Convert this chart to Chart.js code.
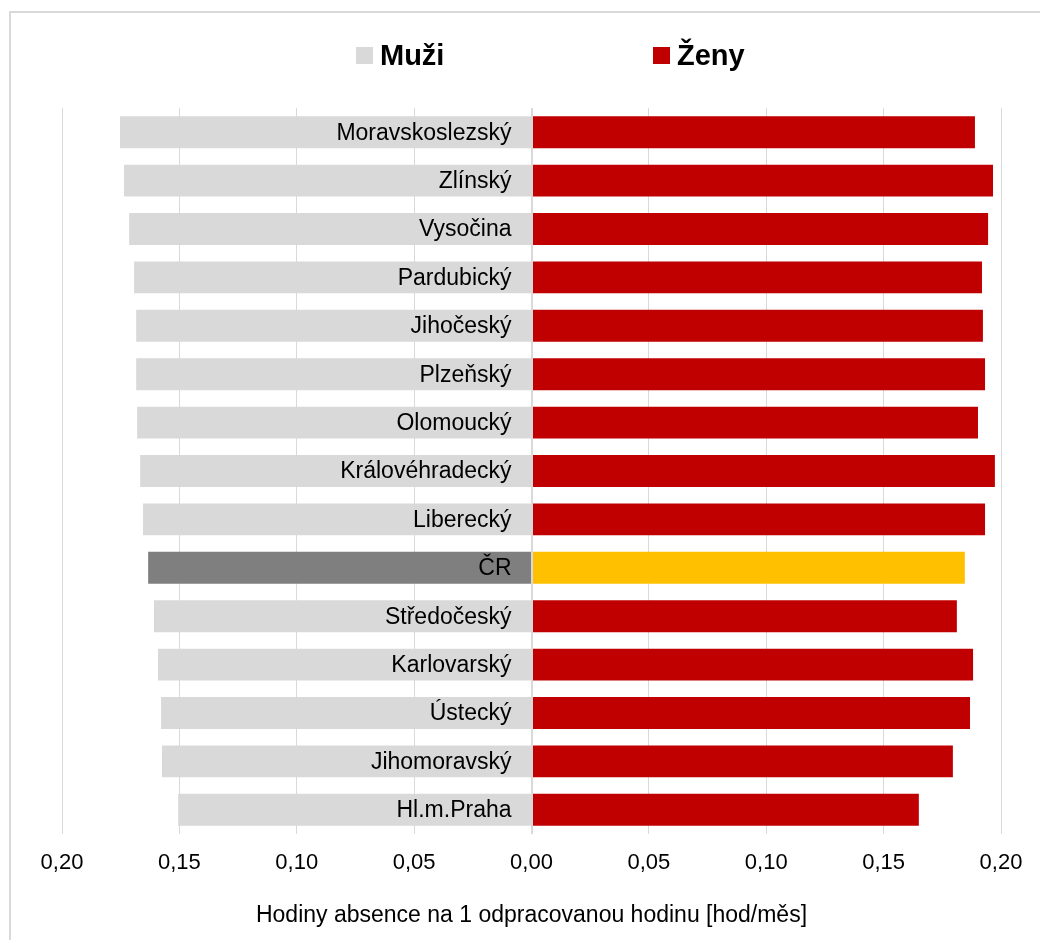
<!DOCTYPE html>
<html>
<head>
<meta charset="utf-8">
<script src="https://cdn.jsdelivr.net/npm/chart.js@4"></script>
<style>
  body { margin: 0; background: #fff; }
  #wrap { width: 1040px; height: 940px; }
</style>
</head>
<body>
<div id="wrap"><canvas id="chart1" width="1040" height="940"></canvas></div>
<script>
var categories = ["Moravskoslezský", "Zlínský", "Vysočina", "Pardubický", "Jihočeský", "Plzeňský", "Olomoucký",
  "Královéhradecký", "Liberecký", "ČR", "Středočeský", "Karlovarský", "Ústecký", "Jihomoravský", "Hl.m.Praha"];
var muzi = [0.1753, 0.1736, 0.1714, 0.1693, 0.1684, 0.1684, 0.168, 0.1667, 0.1655, 0.1633, 0.1608, 0.1591, 0.1578, 0.1574, 0.1505];
var zeny = [0.1889, 0.1966, 0.1945, 0.1919, 0.1923, 0.1932, 0.1902, 0.1974, 0.1932, 0.1846, 0.1812, 0.1881, 0.1868, 0.1795, 0.165];
var seriesNames = ["Muži", "Ženy"];
var xTicks = [-0.2, -0.15, -0.1, -0.05, 0, 0.05, 0.1, 0.15, 0.2];

var crIndex = categories.indexOf("ČR");
var fontFamily = "'Liberation Sans', Arial, sans-serif";

// frame, legend and the category names next to the zero line drawn by hand
var extras = {
  id: "extras",
  beforeDraw: function (chart) {
    var c = chart.ctx;
    c.save();
    c.fillStyle = "#fff";
    c.fillRect(0, 0, chart.width, chart.height);
    c.strokeStyle = "#d9d9d9";
    c.lineWidth = 2;
    c.strokeRect(10, 12, 1100, 1000);
    c.restore();
  },
  afterDatasetsDraw: function (chart) {
    var c = chart.ctx;
    var xs = chart.scales.x, ys = chart.scales.y;
    var x0 = Math.round(xs.getPixelForValue(0)) + 0.5;
    c.save();
    // zero line
    c.strokeStyle = "#d9d9d9";
    c.lineWidth = 1;
    c.beginPath();
    c.moveTo(x0, chart.chartArea.top);
    c.lineTo(x0, chart.chartArea.bottom);
    c.stroke();
    // category names
    c.fillStyle = "#000";
    c.font = "23px " + fontFamily;
    c.textAlign = "right";
    c.textBaseline = "middle";
    chart.data.labels.forEach(function (lab, i) {
      c.fillText(lab, x0 - 21, ys.getPixelForTick(i) + 1);
    });
    c.restore();
  },
  afterDraw: function (chart) {
    var c = chart.ctx;
    var items = [
      { text: seriesNames[0], color: "#d9d9d9", x: 356 },
      { text: seriesNames[1], color: "#c00000", x: 653 }
    ];
    c.save();
    c.font = "bold 29px " + fontFamily;
    c.textBaseline = "alphabetic";
    items.forEach(function (it) {
      c.fillStyle = it.color;
      c.fillRect(it.x, 47, 17, 17);
      c.fillStyle = "#000";
      c.fillText(it.text, it.x + 24, 65);
    });
    c.restore();
  }
};

var ctx1 = document.getElementById("chart1").getContext("2d");
var chart1 = new Chart(ctx1, {
  type: "bar",
  data: {
    labels: categories,
    datasets: [
      {
        label: seriesNames[0],
        data: muzi.map(function (v) { return -v; }),
        backgroundColor: function (c) { return c.dataIndex === crIndex ? "#7f7f7f" : "#d9d9d9"; }
      },
      {
        label: seriesNames[1],
        data: zeny,
        backgroundColor: function (c) { return c.dataIndex === crIndex ? "#ffc000" : "#c00000"; }
      }
    ]
  },
  options: {
    indexAxis: "y",
    responsive: false,
    animation: false,
    barPercentage: 0.66,
    categoryPercentage: 1,
    layout: { padding: { left: 62, right: 39, top: 108, bottom: 7 } },
    plugins: {
      legend: { display: false },
      tooltip: { enabled: false }
    },
    scales: {
      x: {
        stacked: true,
        min: -0.2,
        max: 0.2,
        afterBuildTicks: function (axis) {
          axis.ticks = xTicks.map(function (v) { return { value: v }; });
        },
        grid: { color: "#d9d9d9", drawTicks: false, lineWidth: 1 },
        border: { display: false },
        ticks: {
          padding: 16,
          color: "#000",
          maxRotation: 0,
          font: { family: fontFamily, size: 22 },
          callback: function (v) { return Math.abs(v).toFixed(2).replace(".", ","); }
        },
        title: {
          display: true,
          text: "Hodiny absence na 1 odpracovanou hodinu [hod/měs]",
          color: "#000",
          padding: { top: 9, bottom: 4 },
          font: { family: fontFamily, size: 23 }
        }
      },
      y: {
        stacked: true,
        display: false
      }
    }
  },
  plugins: [extras]
});
</script>
</body>
</html>
